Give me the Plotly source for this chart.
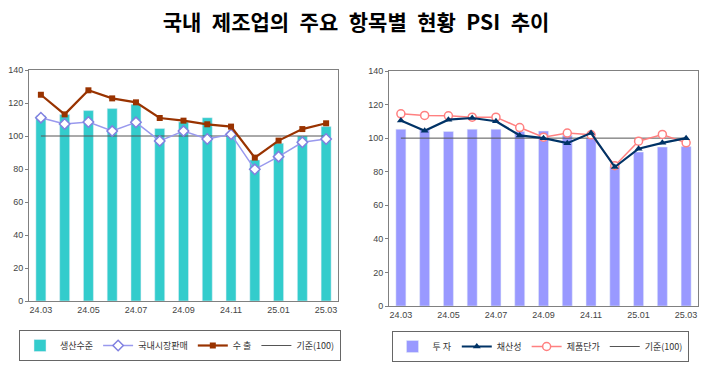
import plotly.graph_objects as go

months = ["24.03", "24.04", "24.05", "24.06", "24.07", "24.08", "24.09",
          "24.10", "24.11", "24.12", "25.01", "25.02", "25.03"]
tick_labels = ["24.03", "24.05", "24.07", "24.09", "24.11", "25.01", "25.03"]

# Left chart
production = [112.3, 113, 115.4, 116.6, 119.2, 104.6, 108.5, 111.1, 101.5, 85.5, 95.6, 100, 105.7]
domestic_sales = [111.1, 107.3, 108.5, 103, 108.3, 97, 103, 98.2, 101, 79.8, 87.5, 96.2, 98.2]
exports = [125, 113.1, 127.7, 122.8, 120.4, 110.9, 109.3, 107.1, 105.7, 86.9, 97.2, 104.2, 107.7]

# Right chart
investment = [105.3, 105, 104, 105.3, 105.3, 104, 104.2, 101.6, 100, 83, 91.7, 94.7, 95]
profitability = [110.5, 104.4, 111, 112, 110.1, 101.6, 100, 97, 103, 82.8, 93.7, 97.2, 100]
product_price = [114.5, 113.5, 113.3, 112.5, 112.5, 106.3, 100.6, 103, 102, 83.6, 98.2, 102.2, 97.2]

baseline = [100, 100]
baseline_x = [months[0], months[-1]]

title_words = ["국내", "제조업의", "주요", "항목별", "현황", "PSI", "추이"]

FONT = "Noto Sans CJK KR"
W, H = 710, 366

fig = go.Figure()

# ---- left ----
fig.add_trace(go.Bar(x=months, y=production, name="생산수준", marker_color="#33CCCC",
                     width=0.42, xaxis="x", yaxis="y", legend="legend", legendrank=1))
fig.add_trace(go.Scatter(x=baseline_x, y=baseline, name="기준(100)", mode="lines",
                         line=dict(color="#555555", width=1), xaxis="x", yaxis="y",
                         legend="legend", legendrank=4))
fig.add_trace(go.Scatter(x=months, y=domestic_sales, name="국내시장판매", mode="lines+markers",
                         line=dict(color="#9999EE", width=1.5),
                         marker=dict(symbol="diamond", size=8, color="white",
                                     line=dict(color="#8080E0", width=1.5)),
                         xaxis="x", yaxis="y", legend="legend", legendrank=2))
fig.add_trace(go.Scatter(x=months, y=exports, name="수 출", mode="lines+markers",
                         line=dict(color="#993300", width=2.2),
                         marker=dict(symbol="square", size=6, color="#993300"),
                         xaxis="x", yaxis="y", legend="legend", legendrank=3))

# ---- right ----
fig.add_trace(go.Bar(x=months, y=investment, name="투 자", marker_color="#9999FF",
                     width=0.42, xaxis="x2", yaxis="y2", legend="legend2", legendrank=1))
fig.add_trace(go.Scatter(x=baseline_x, y=baseline, name="기준(100)", mode="lines",
                         line=dict(color="#555555", width=1), xaxis="x2", yaxis="y2",
                         legend="legend2", legendrank=4))
fig.add_trace(go.Scatter(x=months, y=product_price, name="제품단가", mode="lines+markers",
                         line=dict(color="#FF8080", width=1.5),
                         marker=dict(symbol="circle", size=8, color="white",
                                     line=dict(color="#FF8080", width=1.5)),
                         xaxis="x2", yaxis="y2", legend="legend2", legendrank=3))
fig.add_trace(go.Scatter(x=months, y=profitability, name="채산성", mode="lines+markers",
                         line=dict(color="#003366", width=2.2),
                         marker=dict(symbol="triangle-up", size=7, color="#003366"),
                         xaxis="x2", yaxis="y2", legend="legend2", legendrank=2))

axis_font = dict(family="Liberation Sans, Arial", size=9, color="#444444")

def xaxis(domain, anchor):
    return dict(domain=domain, anchor=anchor, type="category",
                categoryorder="array", categoryarray=months,
                tickmode="array", tickvals=tick_labels, ticktext=tick_labels,
                showline=True, linecolor="#808080", linewidth=1, mirror=True,
                ticks="", tickfont=axis_font, showgrid=False, zeroline=False,
                range=[-0.5, len(months) - 0.5], automargin=False)

def yaxis(domain, anchor):
    return dict(domain=domain, anchor=anchor, range=[0, 140], dtick=20,
                showline=True, linecolor="#808080", linewidth=1, mirror=True,
                ticks="outside", ticklen=3, tickcolor="#808080",
                tickfont=axis_font, showgrid=False, zeroline=False, automargin=False)

legend_common = dict(orientation="h", bordercolor="#666666", borderwidth=1,
                     bgcolor="white", font=dict(family=FONT, size=9, color="#333333"),
                     yanchor="top", xanchor="center", itemwidth=30,
                     tracegroupgap=0, traceorder="normal")

fig.update_layout(
    width=W, height=H,
    margin=dict(l=0, r=0, t=0, b=0, autoexpand=False),
    paper_bgcolor="white", plot_bgcolor="white",
    font=dict(family=FONT),
    showlegend=True,
    barmode="overlay",
    title=dict(text="\u2002".join(title_words), x=356 / W, xanchor="center",
               y=1 - 23 / H, yanchor="middle",
               font=dict(family=FONT, size=21, color="black", weight="bold")),
    xaxis=xaxis([29 / W, 338 / W], "y"),
    yaxis=yaxis([1 - 301 / H, 1 - 70 / H], "x"),
    xaxis2=xaxis([389 / W, 698 / W], "y2"),
    yaxis2=yaxis([1 - 306 / H, 1 - 71 / H], "x2"),
    legend=dict(x=180 / W, y=1 - 330 / H, **legend_common),
    legend2=dict(x=540 / W, y=1 - 331 / H, **legend_common),
)

fig.write_html("out.html", config={"displayModeBar": False},
               post_script="document.body.style.margin='0';document.body.style.overflow='hidden';")
